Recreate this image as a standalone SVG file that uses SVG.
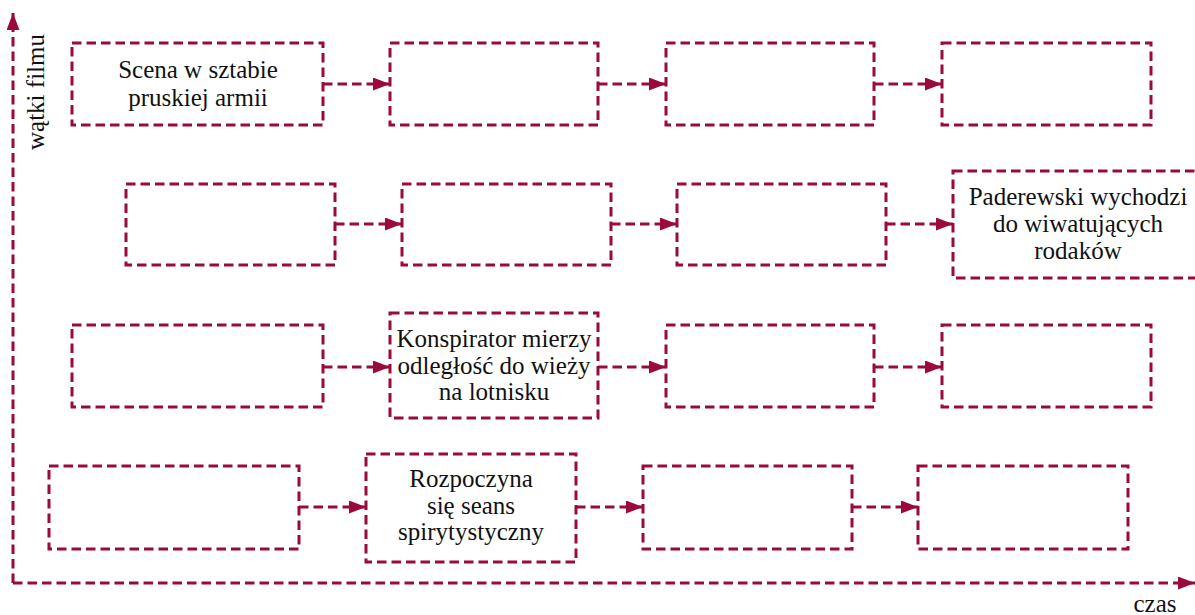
<svg xmlns="http://www.w3.org/2000/svg" width="1195" height="615" viewBox="0 0 1195 615">
<defs>
<style>
.box{fill:none;stroke:#9a0b39;stroke-width:3;stroke-dasharray:9.5 5}
.con{fill:none;stroke:#9a0b39;stroke-width:3;stroke-dasharray:9.5 5}
.t{font-size:25px;fill:#111111;text-anchor:middle}
</style>
<marker id="ah" markerUnits="userSpaceOnUse" markerWidth="18" markerHeight="14" refX="17" refY="6.5" orient="auto">
<path d="M0,0 L17,6.5 L0,13 Z" fill="#9a0b39"/>
</marker>
</defs>
<g id="axes" font-family="Liberation Serif, DejaVu Serif, serif">
<line class="con" x1="13" y1="583" x2="13" y2="13" marker-end="url(#ah)"/>
<line class="con" x1="13" y1="583" x2="1195" y2="583" marker-end="url(#ah)"/>
<text class="t" transform="translate(44,92) rotate(-90)">wątki filmu</text>
<text class="t" x="1155" y="612">czas</text>
</g>
<g id="connectors">
<line class="con" x1="323" y1="84" x2="390" y2="84" marker-end="url(#ah)"/>
<line class="con" x1="598" y1="84" x2="666" y2="84" marker-end="url(#ah)"/>
<line class="con" x1="874" y1="84" x2="942" y2="84" marker-end="url(#ah)"/>
<line class="con" x1="335" y1="224" x2="402" y2="224" marker-end="url(#ah)"/>
<line class="con" x1="611" y1="224" x2="677" y2="224" marker-end="url(#ah)"/>
<line class="con" x1="886" y1="224" x2="953" y2="224" marker-end="url(#ah)"/>
<line class="con" x1="323" y1="367" x2="390" y2="367" marker-end="url(#ah)"/>
<line class="con" x1="598" y1="367" x2="666" y2="367" marker-end="url(#ah)"/>
<line class="con" x1="874" y1="367" x2="942" y2="367" marker-end="url(#ah)"/>
<line class="con" x1="299" y1="507" x2="366" y2="507" marker-end="url(#ah)"/>
<line class="con" x1="576" y1="507" x2="643" y2="507" marker-end="url(#ah)"/>
<line class="con" x1="852" y1="507" x2="918" y2="507" marker-end="url(#ah)"/>
</g>
<g id="nodes" font-family="Liberation Serif, DejaVu Serif, serif">
<g id="r1b1"><rect class="box" x="72" y="43" width="251" height="82"/>
<text class="t" x="198" y="78">Scena w sztabie</text><text class="t" x="198" y="106">pruskiej armii</text></g>
<g id="r1b2"><rect class="box" x="390" y="43" width="208" height="82"/></g>
<g id="r1b3"><rect class="box" x="666" y="43" width="208" height="82"/></g>
<g id="r1b4"><rect class="box" x="942" y="43" width="209" height="82"/></g>
<g id="r2b1"><rect class="box" x="126" y="184" width="209" height="81"/></g>
<g id="r2b2"><rect class="box" x="402" y="184" width="209" height="81"/></g>
<g id="r2b3"><rect class="box" x="677" y="184" width="209" height="81"/></g>
<g id="r2b4"><rect class="box" x="953" y="171" width="250" height="107"/>
<text class="t" x="1078" y="205">Paderewski wychodzi</text><text class="t" x="1078" y="232">do wiwatujących</text><text class="t" x="1078" y="259">rodaków</text></g>
<g id="r3b1"><rect class="box" x="72" y="325" width="251" height="82"/></g>
<g id="r3b2"><rect class="box" x="390" y="313" width="208" height="105"/>
<text class="t" x="494" y="347">Konspirator mierzy</text><text class="t" x="494" y="374">odległość do wieży</text><text class="t" x="494" y="400">na lotnisku</text></g>
<g id="r3b3"><rect class="box" x="666" y="325" width="208" height="82"/></g>
<g id="r3b4"><rect class="box" x="942" y="325" width="209" height="82"/></g>
<g id="r4b1"><rect class="box" x="49" y="466" width="250" height="83"/></g>
<g id="r4b2"><rect class="box" x="366" y="454" width="210" height="108"/>
<text class="t" x="471" y="487">Rozpoczyna</text><text class="t" x="471" y="514">się seans</text><text class="t" x="471" y="540">spirytystyczny</text></g>
<g id="r4b3"><rect class="box" x="643" y="466" width="209" height="83"/></g>
<g id="r4b4"><rect class="box" x="918" y="466" width="210" height="83"/></g>
</g>
</svg>
